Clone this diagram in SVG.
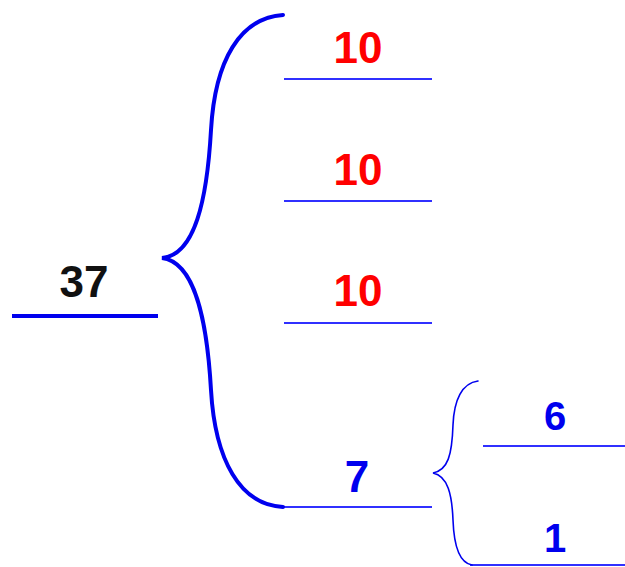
<svg xmlns="http://www.w3.org/2000/svg" width="625" height="567" viewBox="0 0 625 567">
<style>
.num{font-family:"Liberation Sans",Arial,sans-serif;font-weight:bold;text-anchor:middle}
.red{fill:#ff0000}
.blue{fill:#0000ee}
.blk{fill:#111111}
.ln{stroke:#3030ff;stroke-width:2;fill:none}
.brace{stroke:#0000ee;fill:none;stroke-linecap:round}
</style>
<rect width="625" height="567" fill="#ffffff"/>
<g id="n37">
<line x1="12" y1="316" x2="158" y2="316" stroke="#0000ee" stroke-width="4"/>
<text class="num blk" x="84" y="297" font-size="44">37</text>
</g>
<g id="n10a">
<line class="ln" x1="284" y1="79" x2="432" y2="79"/>
<text class="num red" x="358" y="63" font-size="44">10</text>
</g>
<g id="n10b">
<line class="ln" x1="284" y1="201" x2="432" y2="201"/>
<text class="num red" x="358" y="185" font-size="44">10</text>
</g>
<g id="n10c">
<line class="ln" x1="284" y1="323" x2="432" y2="323"/>
<text class="num red" x="358" y="306" font-size="44">10</text>
</g>
<g id="n7">
<line class="ln" x1="283" y1="507" x2="432" y2="507"/>
<text class="num blue" x="357" y="492" font-size="44">7</text>
</g>
<g id="n6">
<line class="ln" x1="483" y1="446" x2="625" y2="446"/>
<text class="num blue" x="555" y="430" font-size="40">6</text>
</g>
<g id="n1">
<line class="ln" x1="470" y1="565" x2="625" y2="565"/>
<text class="num blue" x="555" y="552" font-size="40">1</text>
</g>
<g id="connectors">
<path class="brace" stroke-width="4" d="M283,15 C240,18 215,60 211,130 C207,200 195,255 162,258 C195,262 207,320 211,390 C215,460 240,505 283,507"/>
<path class="brace" stroke-width="1.6" d="M478,381 C462,383 454,400 453,425 C452,455 448,470 433,473 C448,476 452,495 453,520 C454,548 460,563 472,565"/>
</g>
</svg>
